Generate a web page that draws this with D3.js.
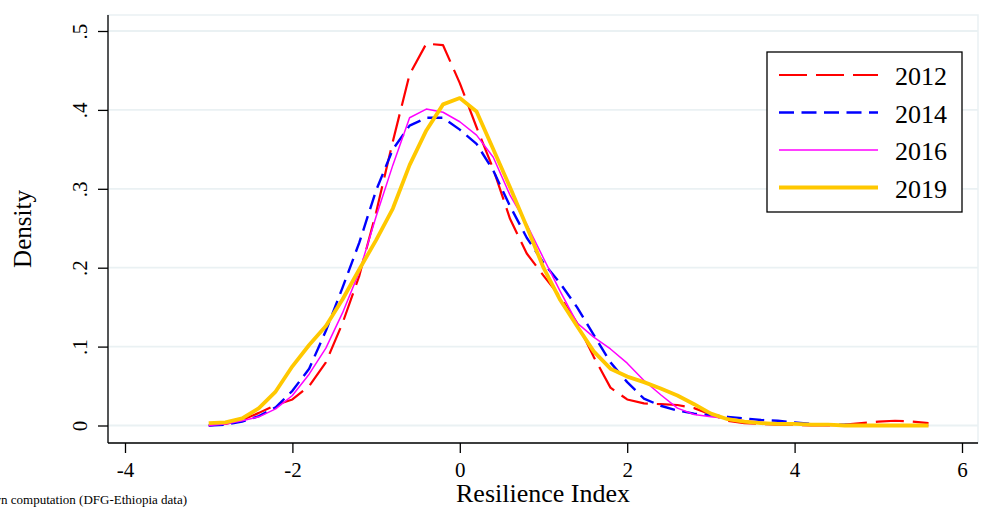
<!DOCTYPE html>
<html>
<head>
<meta charset="utf-8">
<script src="https://cdn.jsdelivr.net/npm/d3@7"></script>
<style>
  body { margin: 0; background: #fff; }
  svg { display: block; }
  text { font-family: "Liberation Serif", "Times New Roman", serif; fill: #000; }
</style>
</head>
<body>
<div class="chart"></div>
<script>
// grid of resilience index values where the kernel densities were evaluated
var grid = [-3.0, -2.8, -2.6, -2.4, -2.2, -2.0, -1.8, -1.6, -1.4, -1.2, -1.0, -0.8, -0.6, -0.4, -0.2,
            0.0, 0.2, 0.4, 0.6, 0.8, 1.0, 1.2, 1.4, 1.6, 1.8, 2.0, 2.2, 2.4, 2.6, 2.8, 3.0,
            3.2, 3.4, 3.6, 3.8, 4.0, 4.2, 4.4, 4.6, 4.8, 5.0, 5.2, 5.4, 5.6];

var d2012 = [0.000, 0.002, 0.007, 0.016, 0.026, 0.033, 0.050, 0.080, 0.130, 0.190, 0.270, 0.360, 0.445, 0.484, 0.482,
             0.434, 0.378, 0.325, 0.262, 0.218, 0.190, 0.163, 0.130, 0.087, 0.048, 0.033, 0.028, 0.027, 0.026, 0.022, 0.014,
             0.006, 0.003, 0.002, 0.001, 0.001, 0.000, 0.000, 0.001, 0.003, 0.005, 0.006, 0.005, 0.003];
var d2014 = [0.000, 0.001, 0.005, 0.012, 0.023, 0.044, 0.072, 0.120, 0.175, 0.232, 0.298, 0.350, 0.380, 0.390, 0.390,
             0.375, 0.357, 0.323, 0.278, 0.238, 0.206, 0.180, 0.150, 0.115, 0.080, 0.055, 0.034, 0.025, 0.019, 0.015, 0.013,
             0.011, 0.009, 0.007, 0.006, 0.004, 0.002, 0.001, 0.001, 0.000, 0.000, 0.000, 0.000, 0.000];
var d2016 = [0.000, 0.002, 0.006, 0.011, 0.021, 0.038, 0.065, 0.098, 0.143, 0.195, 0.265, 0.330, 0.390, 0.401, 0.397,
             0.385, 0.368, 0.340, 0.292, 0.255, 0.212, 0.170, 0.130, 0.112, 0.097, 0.079, 0.057, 0.039, 0.022, 0.014, 0.011,
             0.009, 0.006, 0.004, 0.003, 0.002, 0.001, 0.000, 0.000, 0.000, 0.000, 0.000, 0.000, 0.000];
var d2019 = [0.003, 0.004, 0.009, 0.022, 0.043, 0.075, 0.102, 0.126, 0.160, 0.198, 0.235, 0.275, 0.330, 0.374, 0.407,
             0.415, 0.398, 0.350, 0.302, 0.252, 0.200, 0.159, 0.126, 0.094, 0.072, 0.062, 0.055, 0.047, 0.038, 0.027, 0.015,
             0.008, 0.005, 0.003, 0.002, 0.002, 0.001, 0.001, 0.000, 0.000, 0.000, 0.000, 0.000, 0.000];

var years = ['2012', '2014', '2016', '2019'];
var xTicks = [-4, -2, 0, 2, 4, 6];
var yTicks = [0, 0.1, 0.2, 0.3, 0.4, 0.5];

var series = [
  { name: years[0], values: d2012, color: '#ff0000', width: 2.2, dash: '28,9' },
  { name: years[1], values: d2014, color: '#0000ff', width: 2.4, dash: '15,7.5' },
  { name: years[2], values: d2016, color: '#ff00ff', width: 1.5, dash: null },
  { name: years[3], values: d2019, color: '#ffc800', width: 3.8, dash: null }
];

var W = 995, H = 508;
var pLeft = 108, pRight = 978, pTop = 15, pBottom = 443;

var svg = d3.select('.chart').append('svg')
  .attr('width', W)
  .attr('height', H);

var x = d3.scaleLinear().domain([-4, 6]).range([125, 962]);
var y = d3.scaleLinear().domain([0, 0.5]).range([425.5, 31]);

// plot region outline
svg.append('rect')
  .attr('x', pLeft).attr('y', pTop)
  .attr('width', pRight - pLeft).attr('height', pBottom - pTop)
  .attr('fill', '#fff')
  .attr('stroke', '#eaf1f3')
  .attr('stroke-width', 1.5);

// horizontal grid
svg.selectAll('.grid')
  .data(yTicks)
  .enter().append('line')
  .attr('class', 'grid')
  .attr('x1', pLeft).attr('x2', pRight)
  .attr('y1', function(d) { return y(d); })
  .attr('y2', function(d) { return y(d); })
  .attr('stroke', '#eaf1f3')
  .attr('stroke-width', 1.8);

// curves
var line = d3.line()
  .x(function(d, i) { return x(grid[i]); })
  .y(function(d) { return y(d); });

svg.selectAll('.curve')
  .data(series)
  .enter().append('path')
  .attr('class', 'curve')
  .attr('d', function(s) { return line(s.values); })
  .attr('fill', 'none')
  .attr('stroke', function(s) { return s.color; })
  .attr('stroke-width', function(s) { return s.width; })
  .attr('stroke-dasharray', function(s) { return s.dash; })
  .attr('stroke-linejoin', 'round');

// x axis
var xAxis = svg.append('g')
  .attr('transform', 'translate(0,' + pBottom + ')')
  .call(d3.axisBottom(x).tickValues(xTicks).tickSize(10).tickFormat(function(d) { return String(d); }));
xAxis.select('.domain').remove();
xAxis.selectAll('line').attr('stroke', '#000').attr('stroke-width', 1.3);
xAxis.selectAll('text')
  .attr('y', 34).attr('dy', 0)
  .style('font-size', '21px')
  .style('font-family', 'Liberation Serif');

// y axis
var yAxis = svg.append('g')
  .attr('transform', 'translate(' + pLeft + ',0)')
  .call(d3.axisLeft(y).tickValues(yTicks).tickSize(10)
    .tickFormat(function(d) { return d === 0 ? '0' : String(d).replace(/^0/, ''); }));
yAxis.select('.domain').remove();
yAxis.selectAll('line').attr('stroke', '#000').attr('stroke-width', 1.3);
yAxis.selectAll('text')
  .attr('x', 0).attr('dy', 0)
  .attr('transform', 'translate(-21,0) rotate(-90)')
  .attr('text-anchor', 'middle')
  .style('font-size', '21px')
  .style('font-family', 'Liberation Serif');

// axis lines
svg.append('line')
  .attr('x1', pLeft).attr('x2', pLeft).attr('y1', pTop).attr('y2', pBottom)
  .attr('stroke', '#000').attr('stroke-width', 1.3);
svg.append('line')
  .attr('x1', pLeft).attr('x2', pRight).attr('y1', pBottom).attr('y2', pBottom)
  .attr('stroke', '#000').attr('stroke-width', 1.3);

// axis titles
svg.append('text')
  .attr('x', (pLeft + pRight) / 2).attr('y', 502)
  .attr('text-anchor', 'middle')
  .style('font-size', '26px')
  .text('Resilience Index');

svg.append('text')
  .attr('transform', 'translate(31,' + ((pTop + pBottom) / 2) + ') rotate(-90)')
  .attr('text-anchor', 'middle')
  .style('font-size', '25px')
  .text('Density');

// source note (runs off the left edge as in the original)
svg.append('text')
  .attr('x', 187).attr('y', 504)
  .attr('text-anchor', 'end')
  .style('font-size', '13px')
  .text('Source: Own computation (DFG-Ethiopia data)');

// legend
var legend = svg.append('g').attr('transform', 'translate(767,52)');
legend.append('rect')
  .attr('width', 195).attr('height', 160)
  .attr('fill', '#fff')
  .attr('stroke', '#000')
  .attr('stroke-width', 1.3);

var item = legend.selectAll('.legend')
  .data(series)
  .enter().append('g')
  .attr('class', 'legend')
  .attr('transform', function(d, i) { return 'translate(0,' + (23 + i * 37.5) + ')'; });

item.append('line')
  .attr('x1', 12).attr('x2', 111)
  .attr('stroke', function(d) { return d.color; })
  .attr('stroke-width', function(d) { return d.width; })
  .attr('stroke-dasharray', function(d) { return d.dash; });

item.append('text')
  .attr('x', 128).attr('y', 10)
  .style('font-size', '26px')
  .text(function(d) { return d.name; });
</script>
</body>
</html>
